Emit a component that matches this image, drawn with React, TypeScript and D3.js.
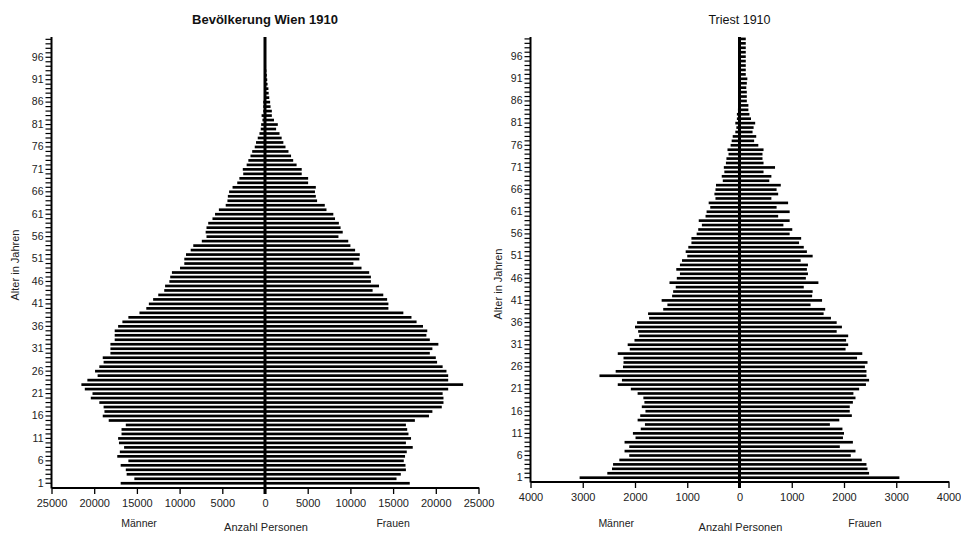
import { useEffect, useRef } from "react";
import * as d3 from "d3";

// Altersklassen 1..100 (unten nach oben)
const ages = d3.range(1, 101);
const ageLabels = [1, 6, 11, 16, 21, 26, 31, 36, 41, 46, 51, 56, 61, 66, 71, 76, 81, 86, 91, 96];

const wienTicks = [-25000, -20000, -15000, -10000, -5000, 0, 5000, 10000, 15000, 20000, 25000];
const triestTicks = [-4000, -3000, -2000, -1000, 0, 1000, 2000, 3000, 4000];

// Wien 1910, Männer (Alter 1..100)
const wienMaenner = [
  16900, 15300, 16200, 16300, 16900, 16000, 17300, 17000, 16500, 17100,
  17200, 16800, 16800, 16300, 18300, 19000, 18800, 18900, 19400, 20400,
  20200, 21100, 21500, 20800, 19600, 19900, 19400, 18900, 19000, 18100,
  18100, 18100, 17600, 17600, 17600, 17200, 16700, 16000, 14700, 13900,
  13600, 13100, 12500, 11800, 11700, 11200, 11100, 10900, 9950, 9450,
  9450, 9250, 8700, 8400, 7400, 6850, 6950, 6850, 6650, 6150,
  5850, 5400, 4600, 4400, 4350, 4200, 3800, 3250, 3000, 2550,
  2600, 2150, 1950, 1700, 1500, 1200, 1050, 850, 650, 500,
  450, 300, 400, 200, 200, 200, 120, 120, 80, 80,
  60, 50, 40, 30, 20, 15, 10, 8, 5, 5,
];

// Wien 1910, Frauen
const wienFrauen = [
  16950, 15400, 15900, 16500, 16450, 16250, 16400, 16600, 17300, 16500,
  17100, 16800, 16650, 16500, 17550, 19200, 19600, 20700, 20900, 20900,
  20800, 21450, 23200, 21450, 21450, 21250, 20800, 20150, 20000, 19300,
  19600, 20300, 19300, 18900, 19000, 18500, 17750, 17150, 16200, 14450,
  14450, 14300, 13850, 12600, 13350, 12400, 12400, 12200, 11300, 10350,
  11050, 11100, 10550, 10000, 9750, 8600, 9100, 8850, 8650, 8200,
  8000, 7200, 7000, 6100, 5950, 5850, 5950, 5050, 5050, 4300,
  4300, 3700, 3300, 3050, 2750, 2400, 2150, 1950, 1700, 1300,
  1500, 1050, 800, 800, 650, 600, 500, 430, 400, 300,
  260, 210, 160, 120, 90, 60, 40, 25, 15, 10,
];

// Triest 1910, Männer
const triestMaenner = [
  3060, 2530, 2440, 2420, 2300, 2110, 2200, 2110, 2200, 1990,
  2040, 1890, 1810, 1950, 1900, 1800, 1870, 1820, 1840, 1950,
  2080, 2330, 2250, 2680, 2370, 2230, 2220, 2220, 2330, 2100,
  2140, 2010, 1920, 1940, 2000, 1960, 1730, 1750, 1460, 1380,
  1490, 1290, 1270, 1220, 1340, 1200, 1140, 1210, 1140, 1100,
  1000, 1030, 980, 920, 920, 820, 790, 720, 780, 650,
  630, 560, 590, 460, 480, 460, 450, 320, 340, 290,
  300, 260, 250, 210, 230, 170, 150, 130, 80, 60,
  80, 50, 50, 30, 20, 20, 15, 15, 10, 10,
  10, 5, 5, 5, 5, 5, 5, 5, 5, 5,
];

// Triest 1910, Frauen
const triestFrauen = [
  3060, 2480, 2450, 2430, 2340, 2130, 2220, 1920, 2170, 1980,
  2000, 1970, 1730, 1910, 2150, 2110, 2110, 2170, 2220, 2180,
  2290, 2420, 2480, 2430, 2430, 2400, 2450, 2250, 2350, 2030,
  2080, 2040, 2080, 1860, 1960, 1860, 1750, 1610, 1640, 1360,
  1580, 1390, 1400, 1230, 1510, 1270, 1310, 1290, 1310, 1170,
  1400, 1290, 1230, 1140, 1180, 960, 1010, 840, 960, 740,
  960, 710, 930, 610, 740, 710, 790, 570, 610, 460,
  680, 460, 440, 440, 460, 360, 280, 320, 250, 270,
  300, 220, 190, 170, 170, 140, 140, 140, 130, 140,
  150, 120, 120, 120, 120, 120, 120, 120, 120, 120,
];

const FONT = "'Liberation Sans', Arial, Helvetica, sans-serif";

interface PyramidConfig {
  title: string;
  boldTitle: boolean;
  men: number[];
  women: number[];
  ticks: number[];
  left: number;
  right: number;
  top: number;
  bandBottom: number;
  bandTop: number;
  axisY: number;
  yLabelX: number;
  yLabelY: number;
}

function drawPyramid(
  svg: d3.Selection<SVGSVGElement, unknown, null, undefined>,
  cfg: PyramidConfig
) {
  const g = svg.append("g");
  const max = d3.max(cfg.ticks) as number;

  const x = d3.scaleLinear().domain([-max, max]).range([cfg.left, cfg.right]);
  const y = d3
    .scaleBand<number>()
    .domain(ages)
    .range([cfg.bandBottom, cfg.bandTop])
    .paddingInner(0.4)
    .paddingOuter(0.2);
  const x0 = x(0);

  // Männer (links)
  g.append("g")
    .selectAll("rect")
    .data(cfg.men)
    .enter()
    .append("rect")
    .attr("x", (d) => x(-d))
    .attr("y", (_d, i) => y(ages[i]) as number)
    .attr("width", (d) => x0 - x(-d))
    .attr("height", y.bandwidth())
    .attr("fill", "#000");

  // Frauen (rechts)
  g.append("g")
    .selectAll("rect")
    .data(cfg.women)
    .enter()
    .append("rect")
    .attr("x", x0)
    .attr("y", (_d, i) => y(ages[i]) as number)
    .attr("width", (d) => x(d) - x0)
    .attr("height", y.bandwidth())
    .attr("fill", "#000");

  // x-Achse
  const xAxis = d3
    .axisBottom(x)
    .tickValues(cfg.ticks)
    .tickSize(6.5)
    .tickSizeOuter(0)
    .tickPadding(5)
    .tickFormat((d) => String(Math.abs(d as number)));

  const xg = g
    .append("g")
    .attr("transform", `translate(0, ${cfg.axisY})`)
    .call(xAxis);
  xg.select(".domain").attr("stroke", "#000").attr("stroke-width", 2);
  xg.selectAll(".tick line").attr("stroke", "#000").attr("stroke-width", 1.3);
  xg.selectAll(".tick text")
    .attr("fill", "#222")
    .attr("font-size", 11)
    .attr("font-family", FONT);

  // y-Achse
  const yAxis = d3
    .axisLeft(y)
    .tickSize(6)
    .tickSizeOuter(0)
    .tickPadding(2)
    .tickFormat((d) => (ageLabels.includes(d as number) ? String(d) : ""));

  const yg = g
    .append("g")
    .attr("transform", `translate(${cfg.left}, 0)`)
    .call(yAxis);
  yg.select(".domain").remove();
  yg.selectAll(".tick line").attr("stroke", "#000").attr("stroke-width", 1.2);
  yg.selectAll(".tick text")
    .attr("fill", "#222")
    .attr("font-size", 10.5)
    .attr("font-family", FONT);

  g.append("line")
    .attr("x1", cfg.left)
    .attr("x2", cfg.left)
    .attr("y1", cfg.top)
    .attr("y2", cfg.axisY + 1)
    .attr("stroke", "#000")
    .attr("stroke-width", 2);

  // Mittellinie bei 0
  g.append("line")
    .attr("x1", x0)
    .attr("x2", x0)
    .attr("y1", cfg.top)
    .attr("y2", cfg.axisY + 6.5)
    .attr("stroke", "#000")
    .attr("stroke-width", 3);

  // Titel
  g.append("text")
    .attr("x", x0)
    .attr("y", 24)
    .attr("text-anchor", "middle")
    .attr("font-family", FONT)
    .attr("font-size", cfg.boldTitle ? 13 : 12.5)
    .attr("font-weight", cfg.boldTitle ? "bold" : "normal")
    .attr("fill", "#111")
    .text(cfg.title);

  // Achsenbeschriftungen
  g.append("text")
    .attr("x", x0 - (x0 - cfg.left) * 0.59)
    .attr("y", 527)
    .attr("text-anchor", "middle")
    .attr("font-family", FONT)
    .attr("font-size", 10.5)
    .attr("fill", "#222")
    .text("Männer");

  g.append("text")
    .attr("x", x0 + (cfg.right - x0) * 0.6)
    .attr("y", 527)
    .attr("text-anchor", "middle")
    .attr("font-family", FONT)
    .attr("font-size", 10.5)
    .attr("fill", "#222")
    .text("Frauen");

  g.append("text")
    .attr("x", x0 + 1)
    .attr("y", 531)
    .attr("text-anchor", "middle")
    .attr("font-family", FONT)
    .attr("font-size", 11)
    .attr("fill", "#222")
    .text("Anzahl Personen");

  g.append("text")
    .attr("transform", `translate(${cfg.yLabelX}, ${cfg.yLabelY}) rotate(-90)`)
    .attr("text-anchor", "middle")
    .attr("font-family", FONT)
    .attr("font-size", 11)
    .attr("fill", "#222")
    .text("Alter in Jahren");
}

export default function App() {
  const svgRef = useRef<SVGSVGElement>(null);

  useEffect(() => {
    if (!svgRef.current) return;
    const svg = d3.select(svgRef.current);
    svg.selectAll("*").remove();

    drawPyramid(svg, {
      title: "Bevölkerung Wien 1910",
      boldTitle: true,
      men: wienMaenner,
      women: wienFrauen,
      ticks: wienTicks,
      left: 51.5,
      right: 478.5,
      top: 37,
      bandBottom: 485.5,
      bandTop: 37.1,
      axisY: 487.5,
      yLabelX: 19,
      yLabelY: 265,
    });

    drawPyramid(svg, {
      title: "Triest 1910",
      boldTitle: false,
      men: triestMaenner,
      women: triestFrauen,
      ticks: triestTicks,
      left: 530.5,
      right: 948.5,
      top: 37,
      bandBottom: 479.9,
      bandTop: 36.7,
      axisY: 481.5,
      yLabelX: 502,
      yLabelY: 284,
    });
  }, []);

  return (
    <svg
      ref={svgRef}
      width={961}
      height={533}
      viewBox="0 0 961 533"
      style={{ position: "absolute", left: 0, top: 0, background: "#fff" }}
    />
  );
}
